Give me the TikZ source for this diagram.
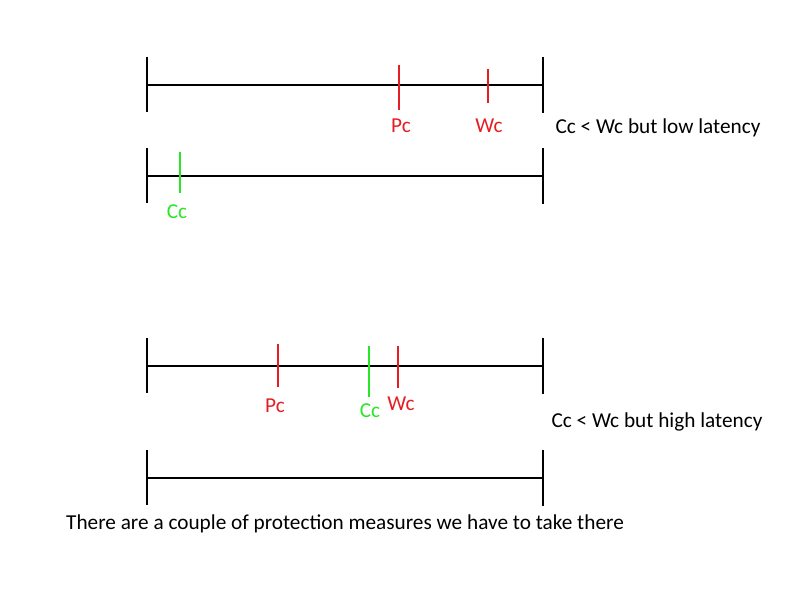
\documentclass[tikz,border=0pt]{standalone}
\usepackage{fontspec}
\setmainfont{Carlito}
\usetikzlibrary{calc}
\definecolor{tickred}{RGB}{230,30,36}
\definecolor{tickgreen}{RGB}{40,230,40}
\tikzset{
  bar/.style={line width=1.1pt},
  redtick/.style={tickred,line width=1pt},
  greentick/.style={tickgreen,line width=1pt},
  redlab/.style={text=tickred,inner sep=0pt},
  greenlab/.style={text=tickgreen,inner sep=0pt},
  note/.style={inner sep=0pt}
}
\begin{document}
\begin{tikzpicture}[x=0.2mm,y=-0.2mm,font=\fontsize{12.1}{14}\selectfont]
            \useasboundingbox (0,0) rectangle (800,600);
            % the four time lines
            \foreach \y/\name in {85/a,176/b,366/c,478/d}{
                \coordinate (\name l) at (147,\y);
                \coordinate (\name r) at (543,\y);
                \draw[bar] (\name l) -- (\name r);
                \draw[bar] ($(\name l)+(0,-28)$) -- ($(\name l)+(0,27)$);
                \draw[bar] ($(\name r)+(0,-28)$) -- ($(\name r)+(0,28)$);
            }
            % first case
            \draw[redtick] (399,65) --(399,110);
            \node[redlab] (pc1) at (401,126) {Pc};
            \draw[redtick] (488,69) --(488,103);
            \node[redlab] (wc1) at (489,126) {Wc};
            \draw[greentick] (180,152) --(180,193);
            \node[greenlab] (cc1) at (177,212) {Cc};
            \node[note] (low) at (658,128) {Cc < Wc but low latency};
            % second case
            \draw[redtick] (278,344) --(278,387);
            \node[redlab] (pc2) at (275,406) {Pc};
            \draw[greentick] (369,346) --(369,397);
            \node[greenlab] (cc2) at (370,411) {Cc};
            \draw[redtick] (398,346) --(398,388);
            \node[redlab] (wc2) at (401,404) {Wc};
            \node[note] (high) at (657,422) {Cc < Wc but high latency};
            \node[note] (measures) at (345,524) {There are a couple of protection measures we have to take there};
        \end{tikzpicture}
\end{document}
